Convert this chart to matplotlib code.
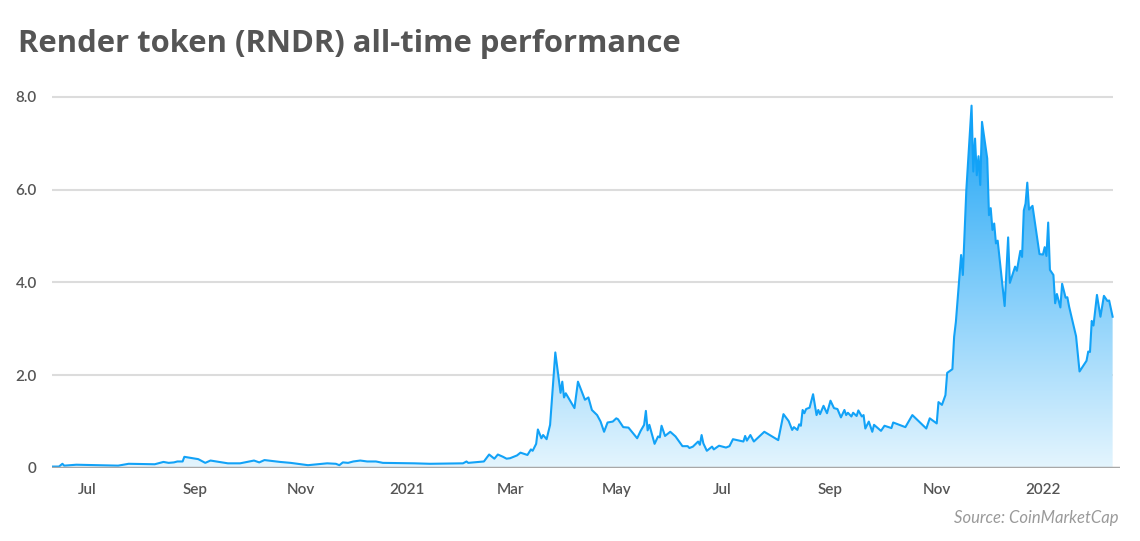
import numpy as np
import pandas as pd
import matplotlib
matplotlib.use('Agg')
import matplotlib.pyplot as plt
import matplotlib.dates as mdates
from matplotlib.colors import to_rgb
from matplotlib.patches import Polygon

# RNDR price (USD)
dates = [
    '2020-06-11', '2020-06-15', '2020-06-17', '2020-06-18', '2020-06-25',
    '2020-07-19', '2020-07-25', '2020-08-09', '2020-08-14', '2020-08-17',
    '2020-08-20', '2020-08-22', '2020-08-25', '2020-08-26', '2020-09-03',
    '2020-09-07', '2020-09-10', '2020-09-20', '2020-09-27', '2020-10-05',
    '2020-10-08', '2020-10-11', '2020-10-20', '2020-10-26', '2020-11-05',
    '2020-11-16', '2020-11-21', '2020-11-23', '2020-11-25', '2020-11-28',
    '2020-12-01', '2020-12-05', '2020-12-09', '2020-12-14', '2020-12-18',
    '2021-01-05', '2021-01-14', '2021-02-02', '2021-02-04', '2021-02-05',
    '2021-02-14', '2021-02-17', '2021-02-20', '2021-02-22', '2021-02-25',
    '2021-02-27', '2021-03-01', '2021-03-05', '2021-03-07', '2021-03-11',
    '2021-03-13', '2021-03-14', '2021-03-16', '2021-03-17', '2021-03-19',
    '2021-03-20', '2021-03-22', '2021-03-24', '2021-03-27', '2021-03-30',
    '2021-03-31', '2021-04-01', '2021-04-02', '2021-04-07', '2021-04-09',
    '2021-04-13', '2021-04-15', '2021-04-17', '2021-04-20', '2021-04-22',
    '2021-04-24', '2021-04-26', '2021-04-29', '2021-05-01', '2021-05-02',
    '2021-05-05', '2021-05-08', '2021-05-13', '2021-05-15', '2021-05-17',
    '2021-05-18', '2021-05-19', '2021-05-20', '2021-05-23', '2021-05-25',
    '2021-05-26', '2021-05-27', '2021-05-29', '2021-06-01', '2021-06-04',
    '2021-06-08', '2021-06-11', '2021-06-12', '2021-06-14', '2021-06-17',
    '2021-06-18', '2021-06-19', '2021-06-20', '2021-06-22', '2021-06-25',
    '2021-06-26', '2021-06-29', '2021-07-03', '2021-07-05', '2021-07-07',
    '2021-07-13', '2021-07-14', '2021-07-15', '2021-07-17', '2021-07-19',
    '2021-07-25', '2021-08-02', '2021-08-05', '2021-08-08', '2021-08-10',
    '2021-08-11', '2021-08-13', '2021-08-14', '2021-08-15', '2021-08-16',
    '2021-08-17', '2021-08-18', '2021-08-20', '2021-08-22', '2021-08-24',
    '2021-08-25', '2021-08-26', '2021-08-28', '2021-08-30', '2021-09-01',
    '2021-09-03', '2021-09-05', '2021-09-07', '2021-09-09', '2021-09-10',
    '2021-09-11', '2021-09-13', '2021-09-14', '2021-09-16', '2021-09-17',
    '2021-09-19', '2021-09-20', '2021-09-21', '2021-09-23', '2021-09-25',
    '2021-09-26', '2021-09-30', '2021-10-02', '2021-10-06', '2021-10-07',
    '2021-10-14', '2021-10-18', '2021-10-26', '2021-10-28', '2021-11-01',
    '2021-11-02', '2021-11-04', '2021-11-06', '2021-11-07', '2021-11-10',
    '2021-11-11', '2021-11-12', '2021-11-15', '2021-11-16', '2021-11-18',
    '2021-11-21', '2021-11-22', '2021-11-23', '2021-11-24', '2021-11-25',
    '2021-11-26', '2021-11-27', '2021-11-30', '2021-12-01', '2021-12-02',
    '2021-12-03', '2021-12-04', '2021-12-05', '2021-12-06', '2021-12-10',
    '2021-12-12', '2021-12-13', '2021-12-16', '2021-12-17', '2021-12-19',
    '2021-12-20', '2021-12-21', '2021-12-22', '2021-12-23', '2021-12-24',
    '2021-12-26', '2021-12-30', '2022-01-01', '2022-01-02', '2022-01-03',
    '2022-01-04', '2022-01-05', '2022-01-07', '2022-01-08', '2022-01-09',
    '2022-01-11', '2022-01-12', '2022-01-14', '2022-01-15', '2022-01-16',
    '2022-01-20', '2022-01-22', '2022-01-26', '2022-01-27', '2022-01-28',
    '2022-01-29', '2022-01-30', '2022-02-01', '2022-02-03', '2022-02-05',
    '2022-02-07', '2022-02-08', '2022-02-10',
]
prices = [
    0.03, 0.03, 0.09, 0.05, 0.07,
    0.05, 0.09, 0.08, 0.13, 0.11,
    0.12, 0.14, 0.14, 0.24, 0.19,
    0.11, 0.16, 0.10, 0.10, 0.16,
    0.12, 0.17, 0.13, 0.11, 0.06,
    0.10, 0.09, 0.06, 0.12, 0.11,
    0.14, 0.16, 0.14, 0.14, 0.11,
    0.10, 0.09, 0.10, 0.14, 0.11,
    0.14, 0.29, 0.20, 0.29, 0.24,
    0.20, 0.21, 0.27, 0.33, 0.28,
    0.40, 0.37, 0.52, 0.83, 0.64,
    0.71, 0.62, 0.93, 2.49, 1.62,
    1.86, 1.52, 1.61, 1.29, 1.86,
    1.47, 1.52, 1.25, 1.14, 1.00,
    0.78, 0.98, 1.00, 1.07, 1.05,
    0.88, 0.87, 0.64, 0.80, 0.93,
    1.23, 0.81, 0.93, 0.52, 0.68,
    0.66, 0.91, 0.69, 0.78, 0.68,
    0.47, 0.47, 0.43, 0.46, 0.57,
    0.50, 0.71, 0.53, 0.37, 0.46,
    0.40, 0.48, 0.44, 0.47, 0.62,
    0.57, 0.69, 0.59, 0.71, 0.57,
    0.78, 0.60, 1.16, 1.01, 0.82,
    0.88, 0.82, 0.94, 0.91, 1.25,
    1.18, 1.27, 1.30, 1.59, 1.14,
    1.25, 1.16, 1.34, 1.18, 1.45,
    1.29, 1.27, 1.09, 1.25, 1.14,
    1.19, 1.11, 1.19, 1.12, 1.24,
    1.11, 1.14, 0.85, 1.00, 0.78,
    0.93, 0.80, 0.91, 0.86, 0.98,
    0.88, 1.14, 0.85, 1.07, 0.96,
    1.42, 1.36, 1.57, 2.05, 2.13,
    2.83, 3.15, 4.59, 4.16, 5.99,
    7.81, 6.39, 7.10, 6.31, 6.72,
    6.10, 7.46, 6.67, 5.45, 5.60,
    5.13, 5.27, 4.84, 4.90, 3.49,
    4.97, 3.99, 4.34, 4.25, 4.68,
    4.55, 5.55, 5.70, 6.15, 5.57,
    5.65, 4.61, 4.60, 4.76, 4.57,
    5.29, 4.27, 4.16, 3.55, 3.75,
    3.46, 3.97, 3.67, 3.68, 3.48,
    2.84, 2.08, 2.31, 2.51, 2.50,
    3.17, 3.07, 3.73, 3.26, 3.71,
    3.60, 3.61, 3.26,
]

y_ticks = [0, 2, 4, 6, 8]
y_labels = ['0', '2.0', '4.0', '6.0', '8.0']
x_ticks = ['2020-07-01', '2020-09-01', '2020-11-01', '2021-01-01', '2021-03-01',
           '2021-05-01', '2021-07-01', '2021-09-01', '2021-11-01', '2022-01-01']
x_labels = ['Jul', 'Sep', 'Nov', '2021', 'Mar', 'May', 'Jul', 'Sep', 'Nov', '2022']
x_end = '2022-02-14'

plt.rcParams['font.family'] = ['Lato', 'DejaVu Sans']

TEXT = '#555555'
LINE = '#12a2f7'

x = mdates.date2num(pd.to_datetime(dates))
y = np.array(prices)

fig = plt.figure(figsize=(11.4, 5.41), dpi=100)
ax = fig.add_axes([0.0456, 0.135, 0.9365, 0.6946])

# gradient fill under the line
verts = np.column_stack([np.r_[x[0], x, x[-1]], np.r_[0, y, 0]])
patch = Polygon(verts, closed=True, facecolor='none', edgecolor='none')
ax.add_patch(patch)
c0 = np.array(to_rgb('#e4f5fe'))
c1 = np.array(to_rgb('#1ca4f6'))
t = np.linspace(0, 1, 256)[:, None, None]
grad = c0 + (c1 - c0) * t
im = ax.imshow(grad, aspect='auto', origin='lower', interpolation='bilinear',
               extent=[x[0], x[-1], 0, y.max()], zorder=1)
im.set_clip_path(patch)

ax.plot(x, y, color=LINE, lw=1.5, zorder=3)

ax.hlines(y_ticks[1:], x[0], x[-1], color='#dcdcdc', lw=1.5, zorder=0)
ax.axhline(0, color='#a8a8a8', lw=2.5, zorder=4)

ax.set_xlim(x[0], mdates.date2num(pd.Timestamp(x_end)))
ax.set_ylim(0, 8.1)
ax.set_yticks(y_ticks)
ax.set_yticklabels(y_labels)
ax.set_xticks(mdates.date2num(pd.to_datetime(x_ticks)))
ax.set_xticklabels(x_labels)
ax.tick_params(length=0, labelsize=11, labelcolor=TEXT)
ax.tick_params(axis='y', pad=11)
ax.tick_params(axis='x', pad=11)
for lbl in ax.get_xticklabels() + ax.get_yticklabels():
    lbl.set_fontweight('semibold')
for s in ax.spines.values():
    s.set_visible(False)

fig.text(18 / 1140, 1 - 44 / 541, 'Render token (RNDR) all-time performance',
         fontsize=22.3, fontweight='bold', color=TEXT, va='center', ha='left',
         family=['Open Sans', 'DejaVu Sans'])
fig.text(1118 / 1140, 1 - 518 / 541, 'Source: CoinMarketCap', fontsize=12,
         style='italic', color='#9a9a9a', va='center', ha='right')

fig.savefig('out.png', dpi=100)
